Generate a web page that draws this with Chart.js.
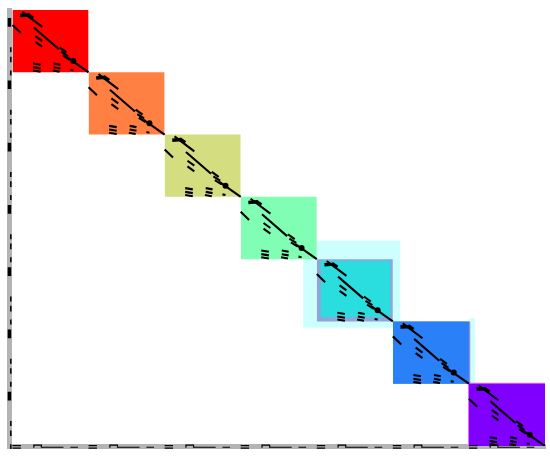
<!DOCTYPE html>
<html>
<head>
<meta charset="utf-8">
<script src="https://cdn.jsdelivr.net/npm/chart.js@4.4.1/dist/chart.umd.min.js"></script>
<style>
html,body{margin:0;padding:0;background:#fff;}
#wrap{width:550px;height:460px;}
</style>
</head>
<body>
<div id="wrap"><canvas id="c" width="550" height="460"></canvas></div>
<script>
// Seven diagonal blocks (index 0 = top-left)
const blockNames = ['1','2','3','4','5','6','7'];
const blockColors = ['#ff0000','#ff8042','#d4dd80','#80ffb4','#2addde','#2a80f6','#8000ff'];

// Light halos: [x0, x1, y0, y1]
const haloRects = [[3.82, 5.10, 3.70, 5.10], [6.0, 6.08, 4.95, 6.0]];
const edgeRects = [[4.0, 5.0, 4.0, 5.0], [5.0, 6.02, 5.0, 6.0], [5.985, 7.0, 5.985, 7.0]];
const edgeColors = ['#8fa6dc', '#8f86f0', '#e070ff'];

// Segment pattern repeated in every block, local coords [u0, v0, u1, v1]
const thinSegments = [
  [0.13,0.03,0.39,0.27],
  [0.00,0.24,0.11,0.37],
  [0.28,0.28,0.61,0.63],
  [0.30,0.42,0.39,0.50],
  [0.30,0.51,0.39,0.59],
  [0.62,0.60,0.71,0.68],
  [0.64,0.67,0.73,0.74],
  [0.66,0.73,0.75,0.80],
  [0.72,0.76,1.00,1.00],
  [0.27,0.86,0.37,0.88],
  [0.27,0.92,0.37,0.94],
  [0.27,0.97,0.37,0.99],
  [0.54,0.86,0.63,0.88],
  [0.54,0.92,0.63,0.94],
  [0.53,0.97,0.62,0.99],
  [0.76,0.96,0.80,0.97]
];
const thickSegments = [
  [0.10,0.09,0.22,0.08],
  [0.20,0.07,0.27,0.13]
];
const dotPoint = [0.80, 0.82];

// Axis marks repeated per block (local)
const leftMarksThin = [[0.60,0.68],[0.75,0.84],[0.97,1.05]];
const leftMarksThick = [[0.13,0.27]];
const bottomMarks = [[0.00,0.11],[0.38,0.67],[0.76,0.86]];
const bottomSteps = [[0.28,0.38]];

function segData(segs, i) {
  const d = [];
  segs.forEach(s => {
    d.push({x: i + s[0], y: i + s[1]});
    d.push({x: i + s[2], y: i + s[3]});
    d.push({x: i + s[2], y: null});
  });
  return d;
}
function rectDataset(r, color, order) {
  return {
    data: [{x: r[0], y: r[2]}, {x: r[1], y: r[2]}],
    fill: {value: r[3]}, backgroundColor: color,
    borderWidth: 0, pointRadius: 0, showLine: true, order: order
  };
}

const datasets = [];
haloRects.forEach(r => datasets.push(rectDataset(r, 'rgba(200,255,255,0.9)', 40)));
edgeRects.forEach((r, k) => datasets.push(rectDataset(r, edgeColors[k], 35)));

blockNames.forEach((n, i) => {
  const b = (i === 4) ? [i + 0.05, i + 0.97, i + 0.03, i + 0.93] : [i, i + 1, i, i + 1];
  const ds = rectDataset(b, blockColors[i], 30);
  ds.label = n;
  datasets.push(ds);
  datasets.push({
    data: segData(thinSegments, i), borderColor: '#000', borderWidth: 2.1,
    pointRadius: 0, showLine: true, spanGaps: false, fill: false, order: 10
  });
  datasets.push({
    data: segData(thickSegments, i), borderColor: '#000', borderWidth: 3.5,
    pointRadius: 0, showLine: true, spanGaps: false, fill: false, order: 10
  });
  datasets.push({
    data: [{x: i + dotPoint[0], y: i + dotPoint[1]}], backgroundColor: '#000',
    pointRadius: 3, borderWidth: 0, showLine: false, order: 9
  });
  // left axis marks
  const lt = [];
  leftMarksThin.forEach(m => { lt.push({x: -0.022, y: i + m[0]}, {x: -0.022, y: i + m[1]}, {x: -0.022, y: null}); });
  datasets.push({data: lt, borderColor: '#000', borderWidth: 1.5, pointRadius: 0, showLine: true, clip: false, order: 2});
  const lk = [];
  leftMarksThick.forEach(m => { lk.push({x: -0.04, y: i + m[0]}, {x: -0.04, y: i + m[1]}, {x: -0.04, y: null}); });
  datasets.push({data: lk, borderColor: '#000', borderWidth: 3.5, pointRadius: 0, showLine: true, clip: false, order: 2});
  // bottom axis marks
  const bm = [];
  bottomMarks.forEach((m, k) => {
    const yy = k === 0 ? 6.995 : 7.02;
    bm.push({x: i + m[0], y: yy}, {x: i + m[1], y: yy}, {x: i + m[1], y: null});
  });
  bm.push({x: i + 0.0, y: 7.035}, {x: i + 0.11, y: 7.035}, {x: i + 0.11, y: null});
  bottomSteps.forEach(m => {
    bm.push({x: i + m[0], y: 7.03}, {x: i + m[0], y: 6.985}, {x: i + m[1], y: 6.985}, {x: i + m[1], y: 7.03}, {x: i + m[1], y: null});
  });
  datasets.push({data: bm, borderColor: '#000', borderWidth: 1.2, pointRadius: 0, showLine: true, clip: false, order: 2});
});

new Chart(document.getElementById('c'), {
  type: 'scatter',
  data: {datasets},
  options: {
    responsive: false,
    animation: false,
    devicePixelRatio: 1,
    layout: {padding: {left: 9, top: 10, right: 5, bottom: 14}},
    plugins: {legend: {display: false}, tooltip: {enabled: false}},
    elements: {line: {borderCapStyle: 'butt', tension: 0}},
    scales: {
      x: {type: 'linear', min: -0.046, max: 7,
          ticks: {display: false}, grid: {display: false, drawTicks: false},
          border: {color: '#b4b4b4', width: 5}},
      y: {type: 'linear', min: 0, max: 7, reverse: true,
          ticks: {display: false}, grid: {display: false, drawTicks: false},
          border: {color: '#b4b4b4', width: 5}}
    }
  }
});
</script>
</body>
</html>
